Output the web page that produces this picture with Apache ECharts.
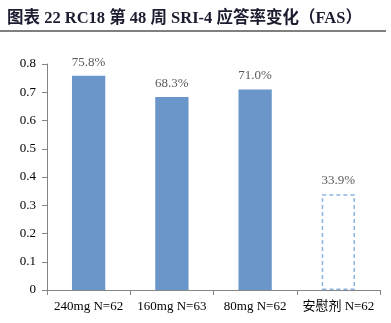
<!DOCTYPE html>
<html><head><meta charset="utf-8">
<script src="https://cdn.jsdelivr.net/npm/echarts@6/dist/echarts.min.js"></script>
<style>html,body{margin:0;padding:0;background:#fff}#c{width:391px;height:323px}</style>
</head><body><div id="c"></div>
<script>
const categories = ['240mg N=62', '160mg N=63', '80mg N=62', '安慰剂 N=62'];
const values = [0.758, 0.683, 0.710, 0.339];
const valueLabels = ['75.8%', '68.3%', '71.0%', '33.9%'];
const yTicks = { min: 0, max: 0.8, interval: 0.1 };
const titleText = '图表 22 RC18 第 48 周 SRI-4 应答率变化（FAS）';

const serif = '"Liberation Serif", "Times New Roman", "Noto Sans CJK SC", serif';
const chart = echarts.init(document.getElementById('c'));
const data = values.map((v, i) => {
  const placebo = i === values.length - 1;
  return {
    value: v,
    itemStyle: placebo ? { color: 'rgba(255,255,255,0)', borderColor: '#8db3e2', borderWidth: 1.5, borderType: [4, 3] } : { color: '#6a96c9' },
    label: { formatter: valueLabels[i] }
  };
});
chart.setOption({
  animation: false,
  title: {
    text: titleText, left: 2, top: 5,
    textStyle: { fontFamily: '"Liberation Serif", "Noto Sans CJK SC", serif', fontWeight: 'bold', fontSize: 16.5, color: '#1c1c30' }
  },
  graphic: [{ type: 'line', shape: { x1: 0, y1: 31, x2: 386, y2: 31 }, style: { stroke: '#000', lineWidth: 1 } }],
  grid: { left: 47, right: 11, top: 64, bottom: 33 },
  xAxis: {
    type: 'category', data: categories,
    axisLine: { lineStyle: { color: '#868686' } },
    axisTick: { show: true, length: 5, interval: 0, lineStyle: { color: '#868686' } },
    axisLabel: { interval: 0, fontFamily: serif, fontSize: 13, color: '#000', margin: 10 }
  },
  yAxis: {
    type: 'value', min: yTicks.min, max: yTicks.max, interval: yTicks.interval,
    splitLine: { show: false },
    axisLine: { show: true, lineStyle: { color: '#868686' } },
    axisTick: { show: true, length: 5, lineStyle: { color: '#868686' } },
    axisLabel: { fontFamily: serif, fontSize: 13, color: '#000', margin: 11 }
  },
  series: [{
    type: 'bar', data: data, barWidth: '40%',
    label: { show: true, position: 'top', distance: 7, fontFamily: serif, fontSize: 13, color: '#595959' }
  }]
});
</script></body></html>
